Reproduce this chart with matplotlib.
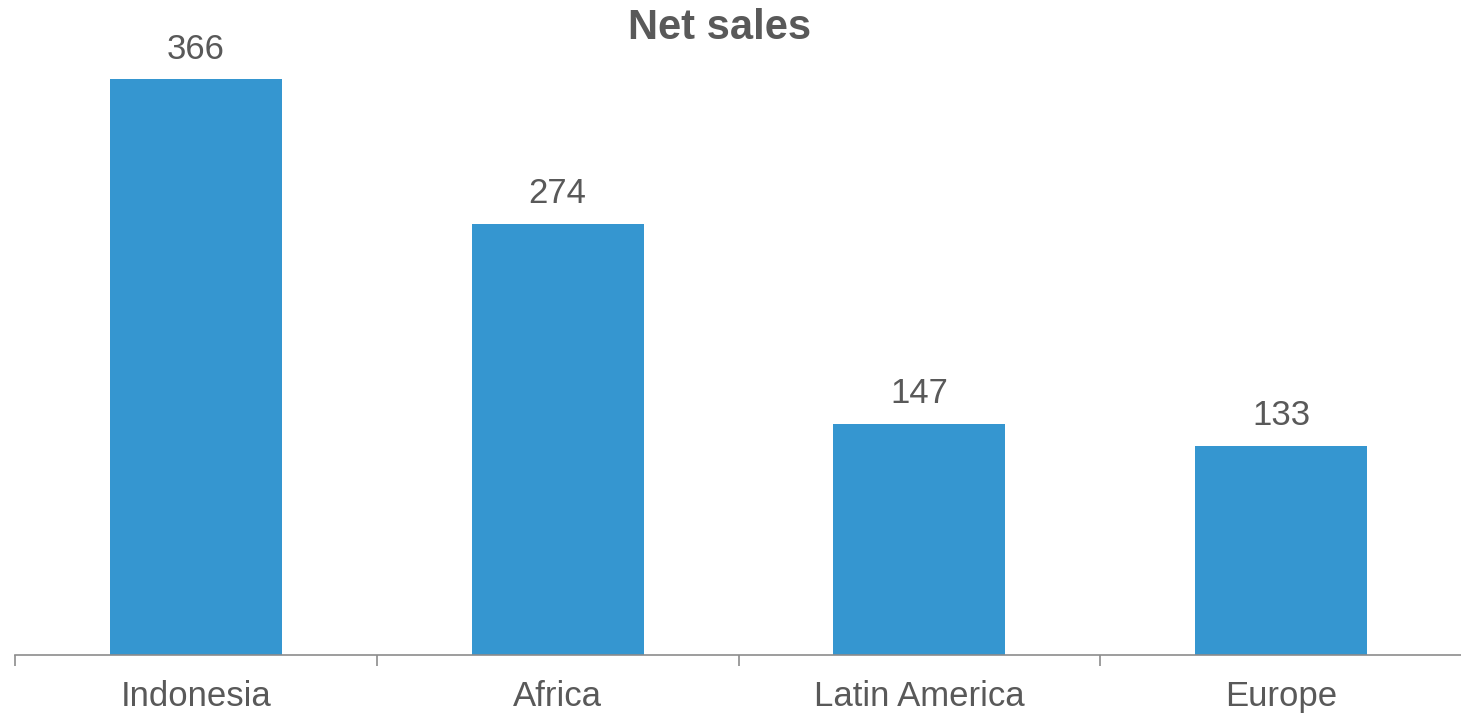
import numpy as np
import matplotlib.pyplot as plt

plt.rcParams['font.family'] = ['Liberation Sans', 'DejaVu Sans']

regions = ['Indonesia', 'Africa', 'Latin America', 'Europe']
net_sales = [366, 274, 147, 133]

bar_color = '#3596d0'
text_color = '#595959'
axis_color = '#8c8c8c'

fig = plt.figure(figsize=(14.61, 7.14), dpi=100)
ax = fig.add_axes([15 / 1461, 59 / 714, 1447 / 1461, 629 / 714])

x = np.arange(len(regions))
bars = ax.bar(x, net_sales, width=0.475, color=bar_color)

for rect, val in zip(bars, net_sales):
    ax.annotate(str(val), (rect.get_x() + rect.get_width() / 2, rect.get_height()),
                xytext=(0, 10), textcoords='offset points',
                ha='center', va='bottom', fontsize=25, color=text_color)

ax.set_xlim(-0.5, len(regions) - 0.5)
ax.set_ylim(0, 400)

# category labels without ticks, separators between categories
ax.set_xticks(x)
ax.set_xticklabels(regions, fontsize=25, color=text_color)
ax.tick_params(axis='x', which='major', length=0, pad=18)
ax.set_xticks(np.arange(-0.5, len(regions)), minor=True)
ax.tick_params(axis='x', which='minor', length=8, width=1.2, color=axis_color, direction='out')

ax.set_yticks([])
for side in ['top', 'right', 'left']:
    ax.spines[side].set_visible(False)
ax.spines['bottom'].set_color(axis_color)
ax.spines['bottom'].set_linewidth(1.2)

fig.text(720 / 1461, 1 - 28 / 714, 'Net sales', ha='center', va='center',
         fontsize=30, fontweight='bold', color=text_color)

fig.savefig('out.png', dpi=100)
